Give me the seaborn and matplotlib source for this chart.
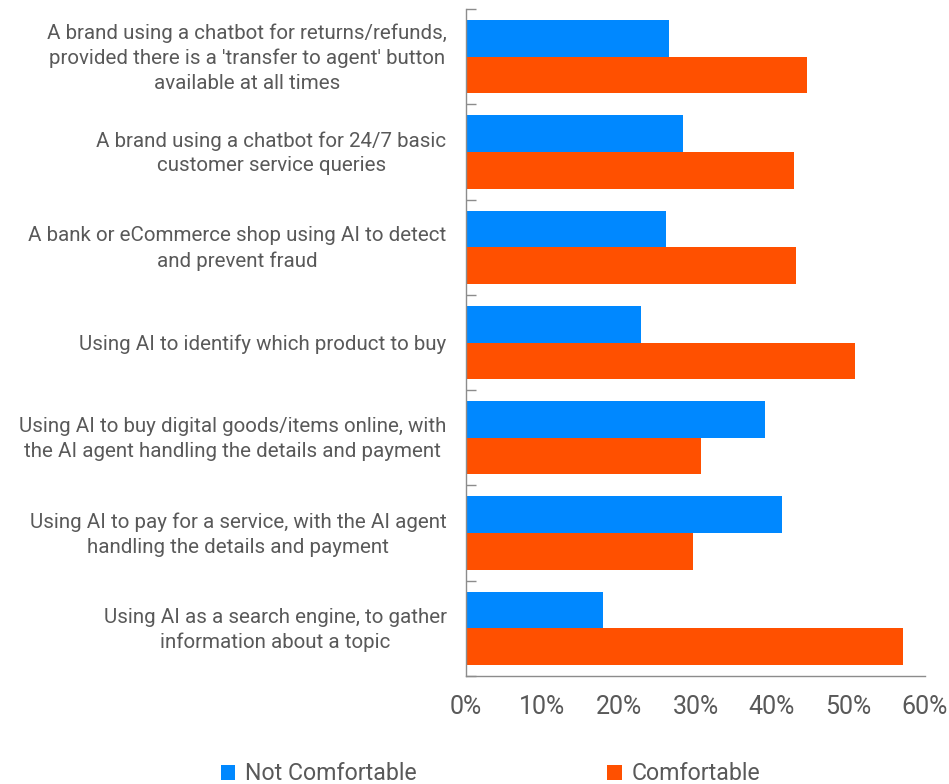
import matplotlib
matplotlib.use("Agg")
import matplotlib.pyplot as plt
import matplotlib.transforms as mtransforms
from matplotlib.patches import Patch
from matplotlib.ticker import FixedLocator, FuncFormatter
import seaborn as sns
import pandas as pd

categories = [
    "A brand using a chatbot for returns/refunds,\nprovided there is a 'transfer to agent' button\navailable at all times",
    "A brand using a chatbot for 24/7 basic\ncustomer service queries",
    "A bank or eCommerce shop using AI to detect\nand prevent fraud",
    "Using AI to identify which product to buy",
    "Using AI to buy digital goods/items online, with\nthe AI agent handling the details and payment",
    "Using AI to pay for a service, with the AI agent\nhandling the details and payment",
    "Using AI as a search engine, to gather\ninformation about a topic",
]
not_comfortable = [26.6, 28.4, 26.2, 22.9, 39.1, 41.3, 17.9]
comfortable = [44.6, 42.9, 43.1, 50.9, 30.7, 29.7, 57.1]
series_names = ["Not Comfortable", "Comfortable"]
series_colors = ["#0088FF", "#FF5000"]
x_ticks = [0, 10, 20, 30, 40, 50, 60]

df = pd.DataFrame({
    "category": categories * 2,
    "value": not_comfortable + comfortable,
    "series": [series_names[0]] * len(categories) + [series_names[1]] * len(categories),
})

sns.set_theme(style="white")
plt.rcParams["font.family"] = ["Roboto", "DejaVu Sans"]
text_color = "#595959"
spine_color = "#8c8c8c"

fig = plt.figure(figsize=(9.49, 7.84), dpi=100)
ax = fig.add_axes([466 / 949, 1 - 676 / 784, (925 - 466) / 949, (676 - 9) / 784])

sns.barplot(
    data=df, y="category", x="value", hue="series", orient="h",
    palette=series_colors, hue_order=series_names, order=categories,
    width=0.77, saturation=1, ax=ax, legend=False, linewidth=0,
)

ax.set_xlim(0, 60)
ax.set_ylim(len(categories) - 0.5, -0.5)
ax.set_xlabel("")
ax.set_ylabel("")

ax.xaxis.set_major_locator(FixedLocator(x_ticks))
ax.xaxis.set_major_formatter(FuncFormatter(lambda v, p: f"{int(v)}%"))
ax.tick_params(axis="x", direction="in", length=8, width=1, color=spine_color,
               labelsize=18, labelcolor=text_color, pad=14)

ax.yaxis.set_minor_locator(FixedLocator([i - 0.5 for i in range(len(categories) + 1)]))
ax.tick_params(axis="y", which="major", length=0, pad=14, labelsize=14.8,
               labelcolor=text_color)
ax.tick_params(axis="y", which="minor", direction="in", length=7, width=1,
               color=spine_color, left=True)

# wrapped labels sit a few pixels high, centred on their row
lift = mtransforms.ScaledTranslation(0, 3.5 / 100, fig.dpi_scale_trans)
for lab in ax.get_yticklabels():
    lab.set_multialignment("center")
    lab.set_linespacing(1.38)
    if "\n" in lab.get_text():
        lab.set_transform(lab.get_transform() + lift)

for side in ["top", "right"]:
    ax.spines[side].set_visible(False)
for side in ["left", "bottom"]:
    ax.spines[side].set_color(spine_color)
    ax.spines[side].set_linewidth(1)

handles = [Patch(facecolor=c, edgecolor="none") for c in series_colors]
fig.legend(handles, series_names, loc="center", bbox_to_anchor=(0.517, 0.013),
           ncol=2, frameon=False, fontsize=16.7, labelcolor=text_color,
           handlelength=0.62, handleheight=0.62, handletextpad=0.45,
           columnspacing=8.2)

fig.savefig("out.png", dpi=100)
